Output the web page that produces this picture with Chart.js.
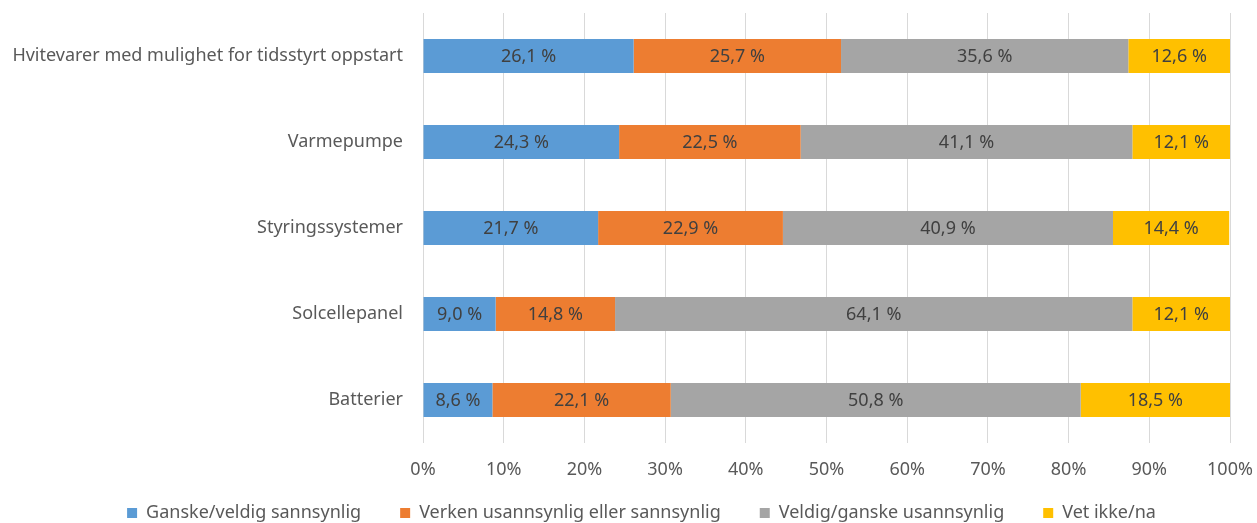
<!DOCTYPE html>
<html>
<head>
<meta charset="utf-8">
<script src="https://cdn.jsdelivr.net/npm/chart.js@4"></script>
<style>
  html, body { margin: 0; padding: 0; background: #fff; }
  #wrap { width: 1257px; height: 523px; }
</style>
</head>
<body>
<div id="wrap"><canvas id="chart" width="1257" height="523"></canvas></div>
<script>
const categories = [
    'Hvitevarer med mulighet for tidsstyrt oppstart',
    'Varmepumpe',
    'Styringssystemer',
    'Solcellepanel',
    'Batterier'
];
const seriesNames = [
    'Ganske/veldig sannsynlig',
    'Verken usannsynlig eller sannsynlig',
    'Veldig/ganske usannsynlig',
    'Vet ikke/na'
];
const likely   = [26.1, 24.3, 21.7, 9.0, 8.6];
const neutral  = [25.7, 22.5, 22.9, 14.8, 22.1];
const unlikely = [35.6, 41.1, 40.9, 64.1, 50.8];
const dontKnow = [12.6, 12.1, 14.4, 12.1, 18.5];
const xTicks = [0, 10, 20, 30, 40, 50, 60, 70, 80, 90, 100];

const colors = ['#5B9BD5', '#ED7D31', '#A5A5A5', '#FFC000'];
const FONT = '"Noto Sans", sans-serif';

// value labels centred in each segment + legend placement tweaks
const barLabels = {
    id: 'barLabels',
    afterInit(chart) {
        const lg = chart.legend;
        const fit = lg.fit.bind(lg);
        lg.fit = function () { fit(); this.height = 30; };
    },
    afterLayout(chart) {
        const lg = chart.legend;
        lg.top = 465;
        lg.bottom = 523;
        lg.left = 26;
        lg.right = 1257;
    },
    afterDatasetsDraw(chart) {
        const ctx = chart.ctx;
        ctx.save();
        ctx.font = '18px ' + FONT;
        ctx.fillStyle = '#404040';
        ctx.textAlign = 'center';
        ctx.textBaseline = 'middle';
        chart.data.datasets.forEach((ds, i) => {
            chart.getDatasetMeta(i).data.forEach((bar, j) => {
                const p = bar.getProps(['x', 'y', 'base']);
                const txt = ds.data[j].toFixed(1).replace('.', ',') + ' %';
                ctx.fillText(txt, (p.x + p.base) / 2, p.y + 1);
            });
        });
        ctx.restore();
    }
};

new Chart(document.getElementById('chart'), {
    type: 'bar',
    data: {
        labels: categories,
        datasets: [likely, neutral, unlikely, dontKnow].map((d, i) => ({
            label: seriesNames[i],
            data: d,
            backgroundColor: colors[i],
            borderWidth: 0,
            barPercentage: 0.395,
            categoryPercentage: 1
        }))
    },
    options: {
        indexAxis: 'y',
        responsive: false,
        animation: false,
        layout: { padding: { top: 13, right: 27, left: 0, bottom: 0 } },
        plugins: {
            tooltip: { enabled: false },
            legend: {
                position: 'bottom',
                labels: {
                    color: '#595959',
                    font: { family: FONT, size: 18 },
                    boxWidth: 10,
                    boxHeight: 10,
                    padding: 39
                }
            }
        },
        scales: {
            x: {
                stacked: true,
                min: 0,
                max: 100,
                afterBuildTicks: s => { s.ticks = xTicks.map(v => ({ value: v })); },
                afterFit: s => {
                    s.height = 50;
                    s.paddingLeft = 0;
                    s.paddingRight = 0;
                },
                border: { display: false },
                grid: { color: '#D9D9D9', drawTicks: false, lineWidth: 1 },
                ticks: {
                    color: '#595959',
                    font: { family: FONT, size: 18 },
                    padding: 16,
                    callback: v => v + '%'
                }
            },
            y: {
                stacked: true,
                afterFit: s => {
                    s.width = 423;
                    s.paddingTop = 0;
                    s.paddingBottom = 0;
                },
                border: { display: false },
                grid: { display: false, drawTicks: false },
                ticks: {
                    color: '#595959',
                    font: { family: FONT, size: 18 },
                    padding: 20
                }
            }
        }
    },
    plugins: [barLabels]
});
</script>
</body>
</html>
